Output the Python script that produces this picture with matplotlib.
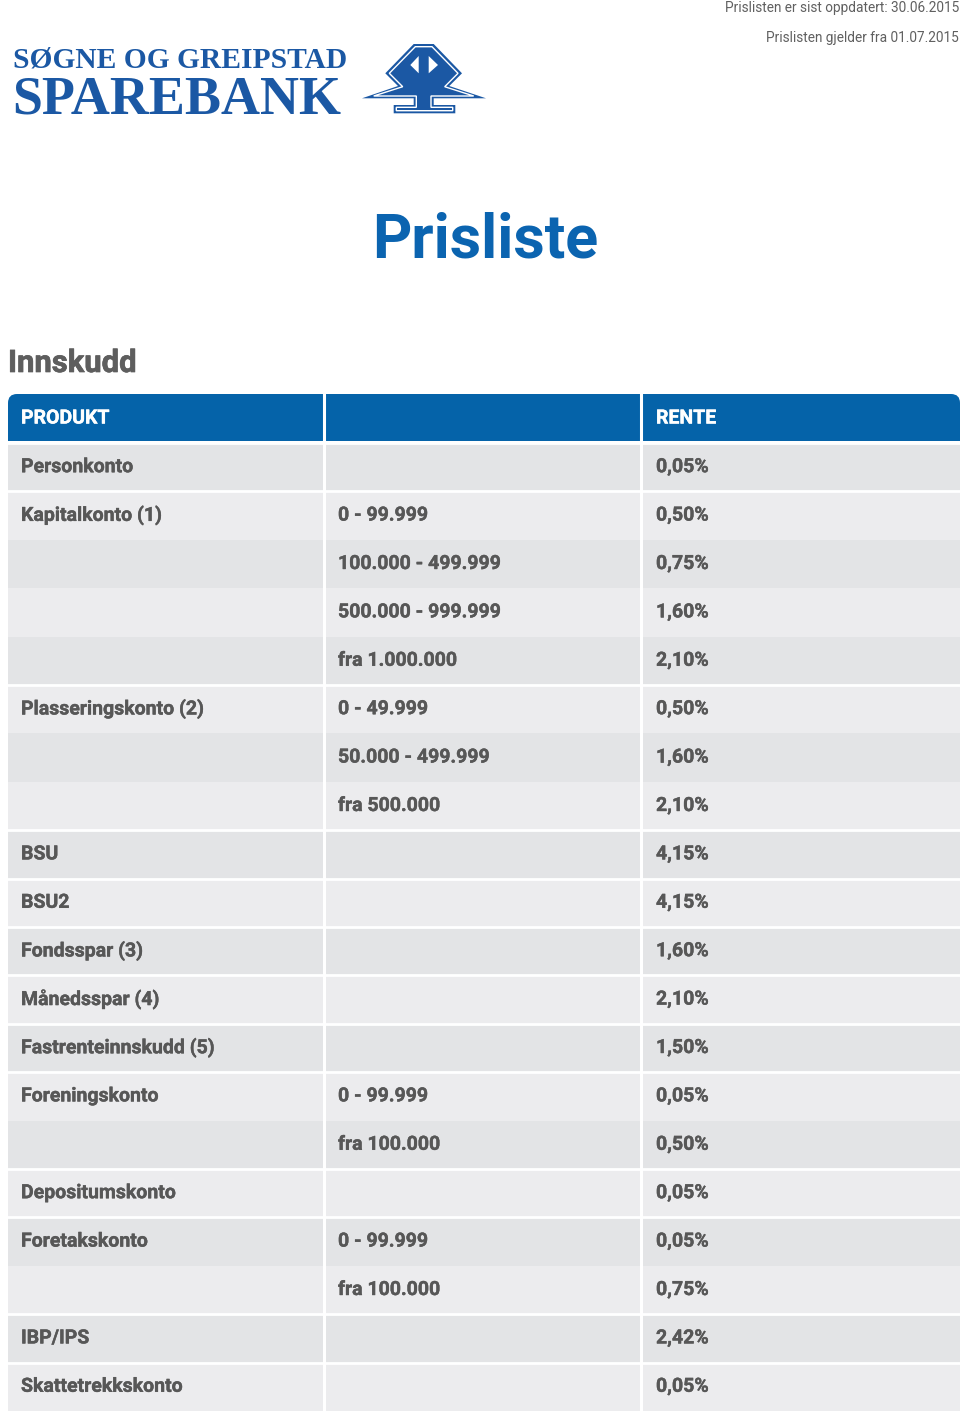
import matplotlib
matplotlib.use('Agg')
import matplotlib.pyplot as plt
import matplotlib.patheffects as pe
from matplotlib.patches import Rectangle, FancyBboxPatch, Polygon

# table contents
columns = ['PRODUKT', '', 'RENTE']
products = ['Personkonto', 'Kapitalkonto (1)', '', '', '',
            'Plasseringskonto (2)', '', '', 'BSU', 'BSU2',
            'Fondsspar (3)', 'Månedsspar (4)', 'Fastrenteinnskudd (5)',
            'Foreningskonto', '', 'Depositumskonto', 'Foretakskonto', '',
            'IBP/IPS', 'Skattetrekkskonto']
ranges = ['', '0 - 99.999', '100.000 - 499.999', '500.000 - 999.999',
          'fra 1.000.000', '0 - 49.999', '50.000 - 499.999', 'fra 500.000',
          '', '', '', '', '', '0 - 99.999', 'fra 100.000', '',
          '0 - 99.999', 'fra 100.000', '', '']
rates = ['0,05%', '0,50%', '0,75%', '1,60%', '2,10%', '0,50%', '1,60%',
         '2,10%', '4,15%', '4,15%', '1,60%', '2,10%', '1,50%', '0,05%',
         '0,50%', '0,05%', '0,05%', '0,75%', '2,42%', '0,05%']

updated_text = 'Prislisten er sist oppdatert: 30.06.2015'
valid_text = 'Prislisten gjelder fra 01.07.2015'

############################################################################
# Styles
############################################################################
W, H = 960, 1413
blue = '#0563a9'
title_blue = '#0b64b0'
logo_blue = '#1b58a4'
text_gray = '#575757'
row_dark = '#e3e4e6'
row_light = '#ececee'
sans = ['Roboto', 'DejaVu Sans']
narrow = ['Liberation Sans Narrow', 'Roboto', 'DejaVu Sans']
serif = ['Liberation Serif', 'DejaVu Serif']

def px(p):
    # pixel size -> points at dpi 100
    return p * 0.72

col_x = [8, 324, 641, 960]
text_x = [21, 338, 656]
header_top, header_h = 394, 47
row_top0, row_h = 443, 48.4

fig = plt.figure(figsize=(W / 100, H / 100), dpi=100)
ax = fig.add_axes([0, 0, 1, 1])
ax.set_xlim(0, W)
ax.set_ylim(H, 0)
ax.axis('off')

############################################################################
# Header texts and logo
############################################################################
ax.text(959, 8, updated_text, ha='right', va='center', fontsize=px(13.6),
        family=narrow, color='#606060')
ax.text(959, 38, valid_text, ha='right', va='center', fontsize=px(13.6),
        family=narrow, color='#606060')

ax.text(13, 67, 'SØGNE OG GREIPSTAD', ha='left', va='baseline',
        fontsize=px(29.5), family=serif, weight='bold', color=logo_blue)
ax.text(12, 113, 'SPAREBANK', ha='left', va='baseline',
        fontsize=px(54), family=serif, weight='bold', color=logo_blue)

# logo symbol
outer = [(413.7, 44), (433.7, 44), (462, 73.3), (449.3, 86), (486, 98.3),
         (433.7, 98.3), (433.7, 105), (455.3, 105), (455.3, 113.3),
         (393.7, 113.3), (393.7, 105), (413.7, 105), (413.7, 98.3),
         (362, 98.3), (398, 86), (385.3, 73.3)]
ax.add_patch(Polygon(outer, closed=True, fc=logo_blue, ec='none'))
inner = [(415.3, 46.7), (432, 46.7), (458, 73.3), (444.7, 86.7), (473.7, 96),
         (431, 96), (431, 107.3), (452.7, 107.3), (452.7, 110.7),
         (396.3, 110.7), (396.3, 107.3), (416.3, 107.3), (416.3, 96),
         (373.7, 96), (402.7, 86.7), (389.3, 73.3)]
ax.add_patch(Polygon(inner, closed=True, fc='none', ec='white', lw=1.0))
ax.add_patch(Polygon([(410.3, 65), (418.7, 56), (418.7, 73.3)], closed=True,
                     fc='white', ec='none'))
ax.add_patch(Polygon([(438, 65), (428.7, 56), (428.7, 73.3)], closed=True,
                     fc='white', ec='none'))

ax.text(372, 257, 'Prisliste', ha='left', va='baseline', fontsize=px(61),
        family=sans, weight='bold', color=title_blue)

ax.text(8, 372, 'Innskudd', ha='left', va='baseline', fontsize=px(31),
        family=sans, weight='bold', color='#5e5e5e',
        path_effects=[pe.withStroke(linewidth=0.5, foreground='#5e5e5e')])

############################################################################
# Table
############################################################################
ax.add_patch(FancyBboxPatch((col_x[0], header_top), col_x[-1] - col_x[0],
                            header_h, boxstyle='round,pad=0,rounding_size=9',
                            fc=blue, ec='none'))
ax.add_patch(Rectangle((col_x[0], header_top + 15), col_x[-1] - col_x[0],
                       header_h - 15, fc=blue, ec='none'))
for j, name in enumerate(columns):
    ax.text(text_x[j], header_top + header_h / 2 + 1, name, ha='left',
            va='center', fontsize=px(19.5), family=sans, weight='bold',
            color='white',
            path_effects=[pe.withStroke(linewidth=0.3, foreground='white')])

bold_fx = [pe.withStroke(linewidth=0.3, foreground=text_gray)]
for i in range(len(products)):
    top = row_top0 + i * row_h
    fc = row_dark if i % 2 == 0 else row_light
    ax.add_patch(Rectangle((col_x[0], top), col_x[-1] - col_x[0], row_h,
                           fc=fc, ec='none'))
    yc = top + row_h / 2
    for j, val in enumerate([products[i], ranges[i], rates[i]]):
        if val:
            ax.text(text_x[j], yc, val, ha='left', va='center',
                    fontsize=px(19.5), family=sans, weight='bold',
                    color=text_gray, path_effects=bold_fx)
    # white line between product groups
    if products[i]:
        ax.plot([col_x[0], col_x[-1]], [top, top], color='white', lw=2.0)

table_bottom = row_top0 + len(products) * row_h
for xc in col_x[1:3]:
    ax.plot([xc, xc], [header_top, table_bottom], color='white', lw=2.2)

fig.savefig('out.png', dpi=100)
